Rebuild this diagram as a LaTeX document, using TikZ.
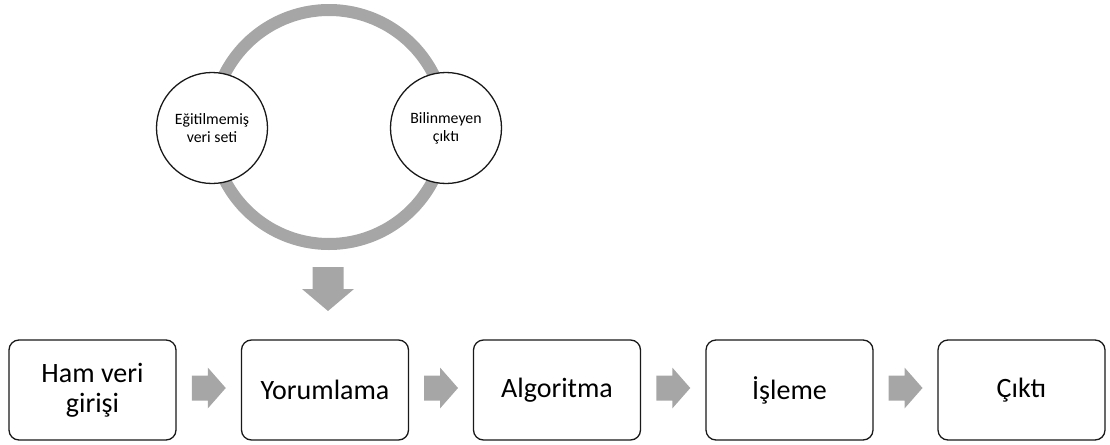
\documentclass[tikz,border=0pt]{standalone}
\usepackage{fontspec}
\setmainfont{Carlito}
\usetikzlibrary{calc}
\definecolor{ringgray}{RGB}{166,166,166}
\definecolor{arrgray}{RGB}{166,166,166}
\tikzset{
  stepbox/.style={draw=black!90, line width=1.3pt, rounded corners=10pt, fill=white,
    minimum width=167pt, minimum height=100pt, align=center, inner sep=0pt,
    font=\fontsize{28}{30}\selectfont},
  smallc/.style={circle, draw=black!90, line width=1.3pt, fill=white, minimum size=111pt,
    inner sep=0pt, align=center, font=\fontsize{15.8}{18}\selectfont},
  rarr/.pic={\fill[arrgray] (-17,-12.5) -- (-1,-12.5) -- (-1,-20.5) -- (17,0) -- (-1,20.5) -- (-1,12.5) -- (-17,12.5) -- cycle;},
  darr/.pic={\fill[arrgray] (-15.5,-22) -- (15.5,-22) -- (15.5,0) -- (26,0) -- (0,22) -- (-26,0) -- (-15.5,0) -- cycle;}
}
\begin{document}
\begin{tikzpicture}[x=1pt,y=-1pt]
\useasboundingbox (0,0) rectangle (1110,444);
% ring
\coordinate (rc) at (329,127);
\draw[ringgray, line width=12pt] (rc) circle[radius=117];
\node[smallc] (u) at (212,128) {Eğitilmemiş\\veri seti};
\node[smallc] (k) at (446,128) {Bilinmeyen\\çıktı};
% down arrow
\pic (da) at (328,289) {darr};
% boxes
\node[stepbox] (b1) at (92.5,390) {Ham veri\\girişi};
\node[stepbox] (b2) at (325,390) {Yorumlama};
\node[stepbox] (b3) at (557,390) {Algoritma};
\node[stepbox] (b4) at (789.5,390) {İşleme};
\node[stepbox] (b5) at (1021.5,390) {Çıktı};
% arrows
\pic (a1) at ($(b1.east)!0.5!(b2.west)+(0,-2)$) {rarr};
\pic (a2) at ($(b2.east)!0.5!(b3.west)+(0,-2)$) {rarr};
\pic (a3) at ($(b3.east)!0.5!(b4.west)+(0,-2)$) {rarr};
\pic (a4) at ($(b4.east)!0.5!(b5.west)+(0,-2)$) {rarr};
\end{tikzpicture}
\end{document}
